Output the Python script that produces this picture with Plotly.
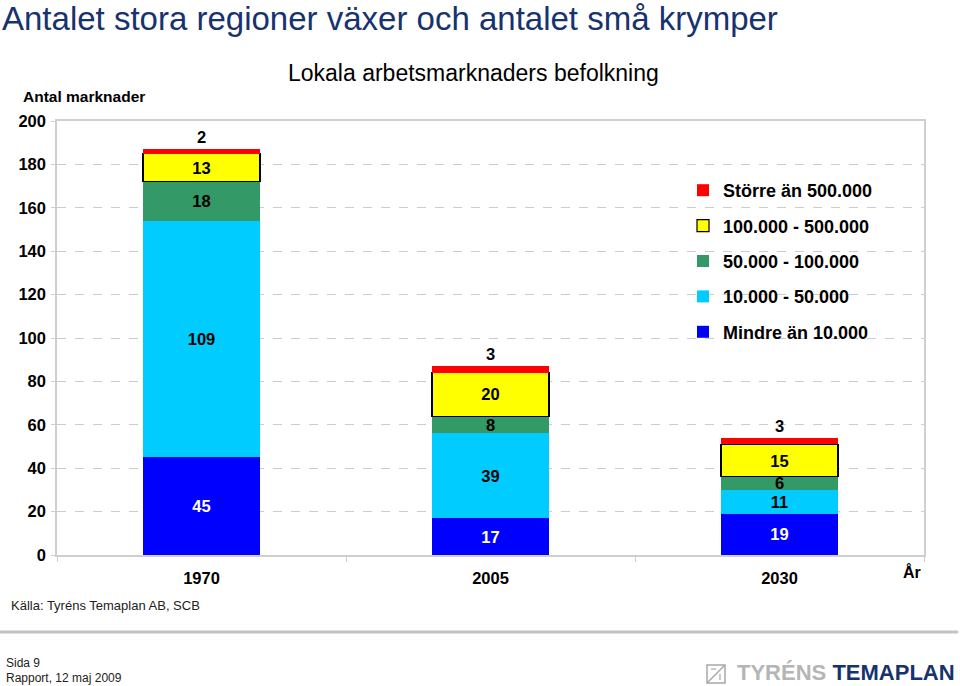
import plotly.graph_objects as go

years = ["1970", "2005", "2030"]
mindre = [45, 17, 19]
s10_50 = [109, 39, 11]
s50_100 = [18, 8, 6]
s100_500 = [13, 20, 15]
storre = [2, 3, 3]

names = ["Mindre än 10.000", "10.000 - 50.000", "50.000 - 100.000",
         "100.000 - 500.000", "Större än 500.000"]
colors = ["#0000FF", "#00CCFF", "#339966", "#FFFF00", "#FF0000"]
values = [mindre, s10_50, s50_100, s100_500, storre]

W, H = 960, 686
L, R, T, B = 57, 36, 121, 131
PW, PH = W - L - R, H - T - B

def px(x):
    return (x - L) / PW

def py(y):
    return (H - B - y) / PH

FONT = "Liberation Sans, Arial, sans-serif"

fig = go.Figure()
for i, (n, c, v) in enumerate(zip(names, colors, values)):
    is_top = i == len(names) - 1
    fig.add_trace(go.Bar(
        x=years, y=v, name=n, width=0.405,
        marker=dict(color=c,
                    line=dict(color="#000000", width=1.2 if c == "#FFFF00" else 0)),
        text=[str(a) for a in v],
        textposition="outside" if is_top else "inside",
        insidetextanchor="middle",
        textangle=0,
        textfont=dict(family=FONT, size=16.5, weight="bold",
                      color="#FFFFFF" if c == "#0000FF" else "#000000"),
        cliponaxis=False,
        legendgroup=n,
        legendrank=len(names) - i,
        hoverinfo="skip",
    ))

fig.update_layout(
    width=W, height=H,
    margin=dict(l=L, r=R, t=T, b=B),
    barmode="stack",
    plot_bgcolor="white", paper_bgcolor="white",
    font=dict(family=FONT, color="#000000"),
    uniformtext=dict(minsize=16.5, mode="show"),
    showlegend=True,
    legend=dict(
        x=px(683), y=py(172), xanchor="left", yanchor="top",
        traceorder="grouped", tracegroupgap=9,
        font=dict(family=FONT, size=18, weight="bold", color="#000000"),
        bgcolor="rgba(0,0,0,0)",
    ),
    xaxis=dict(
        range=[-0.5, 2.5],
        showline=True, linecolor="#cfcfcf", linewidth=1.5, mirror=True,
        ticks="outside", tickson="boundaries", ticklen=5, tickcolor="#cfcfcf",
        tickfont=dict(family=FONT, size=16.5, weight="bold"),
        ticklabelstandoff=7,
        showgrid=False,
    ),
    yaxis=dict(
        range=[0, 200], dtick=20,
        showline=True, linecolor="#cfcfcf", linewidth=1.5, mirror=True,
        ticks="outside", ticklen=4, tickcolor="#cfcfcf",
        tickfont=dict(family=FONT, size=16.5, weight="bold"),
        ticklabelstandoff=2,
        showgrid=True, gridcolor="#cccccc", griddash="dash", gridwidth=1,
        zeroline=False,
    ),
)

ann = [
    dict(text="Antalet stora regioner växer och antalet små krymper",
         x=px(0), y=py(18), xanchor="left", yanchor="middle",
         font=dict(size=33, color="#17336F")),
    dict(text="Lokala arbetsmarknaders befolkning",
         x=px(473), y=py(73), xanchor="center", yanchor="middle",
         font=dict(size=23, color="#000000")),
    dict(text="Antal marknader",
         x=px(21), y=py(96), xanchor="left", yanchor="middle",
         font=dict(size=15.5, weight="bold")),
    dict(text="År",
         x=px(912), y=py(572), xanchor="center", yanchor="middle",
         font=dict(size=16, weight="bold")),
    dict(text="Källa: Tyréns Temaplan AB, SCB",
         x=px(9), y=py(605), xanchor="left", yanchor="middle",
         font=dict(size=13, color="#222222")),
    dict(text="Sida 9",
         x=px(4), y=py(663), xanchor="left", yanchor="middle",
         font=dict(size=12, color="#222222")),
    dict(text="Rapport, 12 maj 2009",
         x=px(4), y=py(678), xanchor="left", yanchor="middle",
         font=dict(size=12, color="#222222")),
    dict(text="<span style='color:#B5B5B5'>TYRÉNS</span> "
              "<span style='color:#17336F'>TEMAPLAN</span>",
         x=px(957), y=py(672), xanchor="right", yanchor="middle",
         font=dict(size=22, weight="bold")),
]
for a in ann:
    a.update(xref="paper", yref="paper", showarrow=False)
fig.update_layout(annotations=ann)

shapes = [
    dict(type="line", x0=px(0), x1=px(958), y0=py(632), y1=py(632),
         line=dict(color="#C4C4C4", width=3)),
    dict(type="rect", x0=px(707), x1=px(725), y0=py(665), y1=py(683),
         line=dict(color="#A8A8A8", width=1.5)),
    dict(type="line", x0=px(707), x1=px(725), y0=py(683), y1=py(665),
         line=dict(color="#A8A8A8", width=1.5)),
    dict(type="line", x0=px(711), x1=px(716), y0=py(669), y1=py(669),
         line=dict(color="#A8A8A8", width=1.2)),
    dict(type="line", x0=px(720), x1=px(720), y0=py(674), y1=py(680),
         line=dict(color="#A8A8A8", width=1.2)),
]
for s in shapes:
    s.update(xref="paper", yref="paper")
fig.update_layout(shapes=shapes)

fig.write_html(
    "out.html",
    config={"displayModeBar": False},
    post_script="document.body.style.margin='0px';document.body.style.overflow='hidden';",
)
